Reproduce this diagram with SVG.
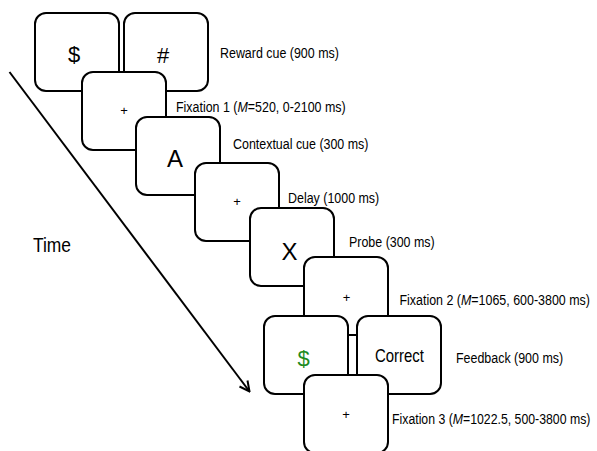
<svg xmlns="http://www.w3.org/2000/svg" width="597" height="451" viewBox="0 0 597 451">
<style>
.box{fill:#fff;stroke:#000;stroke-width:2}
text{font-family:"Liberation Sans",Arial,sans-serif;fill:#000}
.lbl{font-size:15px}
.sym{text-anchor:middle}
.plus{font-size:13px;text-anchor:middle}
.conn{fill:none;stroke:#000;stroke-width:2}
</style>
<defs>
<marker id="ah" viewBox="0 0 12 12" refX="11" refY="6" markerWidth="12" markerHeight="12" markerUnits="userSpaceOnUse" orient="auto">
<path d="M1,1 L11,6 L1,11" fill="none" stroke="#000" stroke-width="2"/>
</marker>
</defs>
<g id="connectors">
<line class="conn" x1="9.5" y1="72" x2="249.5" y2="391.5" marker-end="url(#ah)"/>
</g>
<g id="reward-cue-dollar"><rect class="box" x="35" y="13" width="84" height="78" rx="11"/><text class="sym" x="74" y="62" font-size="22">$</text></g>
<g id="reward-cue-hash"><rect class="box" x="124" y="13" width="84" height="78" rx="11"/><text class="sym" x="163" y="63" font-size="22">#</text></g>
<g id="fixation1"><rect class="box" x="82" y="72" width="84" height="78" rx="11"/><text class="plus" x="124" y="115">+</text></g>
<g id="contextual-cue"><rect class="box" x="136" y="117" width="84" height="78" rx="11"/><text class="sym" x="175" y="167" font-size="24">A</text></g>
<g id="delay"><rect class="box" x="195" y="163" width="84" height="78" rx="11"/><text class="plus" x="237" y="206">+</text></g>
<g id="probe"><rect class="box" x="250" y="208" width="84" height="78" rx="11"/><text class="sym" x="289.5" y="260" font-size="24">X</text></g>
<g id="fixation2"><rect class="box" x="304" y="257" width="84" height="78" rx="11"/><text class="plus" x="346.5" y="302">+</text></g>
<g id="feedback-dollar"><rect class="box" x="264" y="316" width="84" height="78" rx="11"/><text class="sym" x="303.5" y="366" font-size="22" style="fill:#1e8c1e">$</text></g>
<g id="feedback-correct"><rect class="box" x="357" y="316" width="84" height="78" rx="11"/><text class="sym" transform="translate(399.5,362) scale(0.83,1)" font-size="18">Correct</text></g>
<g id="fixation3"><rect class="box" x="304" y="375" width="84" height="78" rx="11"/><text class="plus" x="346" y="419">+</text></g>
<g id="labels">
<text class="lbl" transform="translate(220,58) scale(0.83,1)">Reward cue (900 ms)</text>
<text class="lbl" transform="translate(176,112) scale(0.83,1)">Fixation 1 (<tspan font-style="italic">M</tspan>=520, 0-2100 ms)</text>
<text class="lbl" transform="translate(233,149) scale(0.83,1)">Contextual cue (300 ms)</text>
<text class="lbl" transform="translate(288,203) scale(0.83,1)">Delay (1000 ms)</text>
<text class="lbl" transform="translate(349,247) scale(0.83,1)">Probe (300 ms)</text>
<text class="lbl" transform="translate(399.5,305) scale(0.83,1)">Fixation 2 (<tspan font-style="italic">M</tspan>=1065, 600-3800 ms)</text>
<text class="lbl" transform="translate(456,362.5) scale(0.83,1)">Feedback (900 ms)</text>
<text class="lbl" transform="translate(392,424) scale(0.82,1)">Fixation 3 (<tspan font-style="italic">M</tspan>=1022.5, 500-3800 ms)</text>
<text transform="translate(33,251.5) scale(0.85,1)" font-size="20.5">Time</text>
</g>
</svg>
